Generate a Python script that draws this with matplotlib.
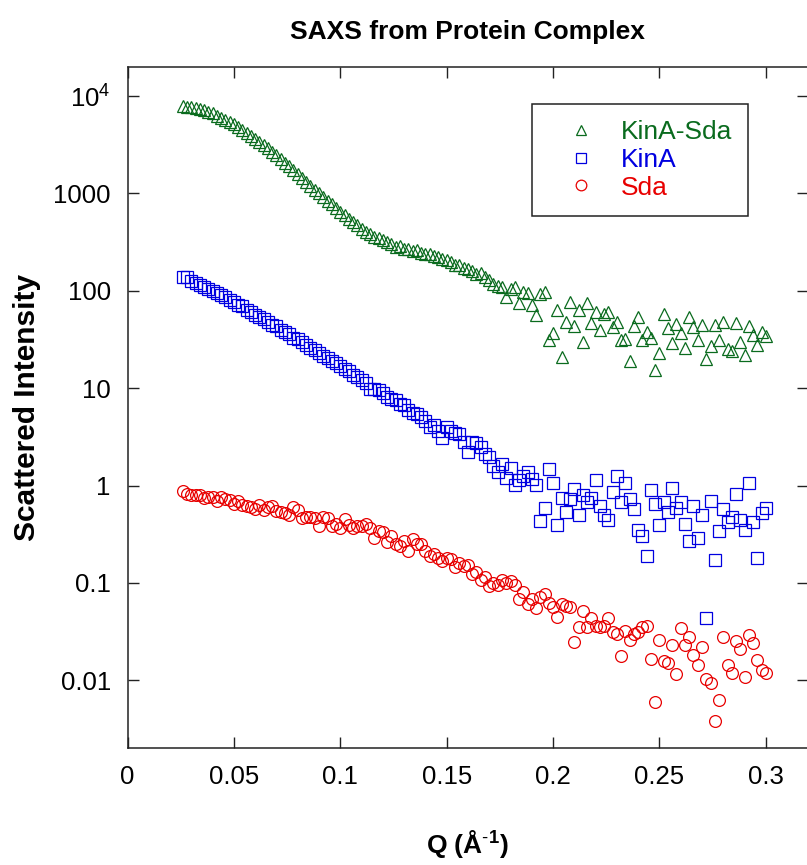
import matplotlib.pyplot as plt
from matplotlib.ticker import NullLocator

plt.rcParams['font.family'] = 'Liberation Sans'
plt.rcParams['mathtext.fontset'] = 'custom'
plt.rcParams['mathtext.rm'] = 'Liberation Sans'
plt.rcParams['mathtext.bf'] = 'Liberation Sans:bold'

# scattering vector Q (1/A), shared by the three curves
q = [0.026, 0.028, 0.030, 0.032, 0.034, 0.036, 0.038, 0.040, 0.042, 0.044,
     0.046, 0.048, 0.050, 0.052, 0.054, 0.056, 0.058, 0.060, 0.062, 0.064,
     0.066, 0.068, 0.070, 0.072, 0.074, 0.076, 0.078, 0.080, 0.082, 0.084,
     0.086, 0.088, 0.090, 0.092, 0.094, 0.096, 0.098, 0.100, 0.102, 0.104,
     0.106, 0.108, 0.110, 0.112, 0.114, 0.116, 0.118, 0.120, 0.122, 0.124,
     0.126, 0.128, 0.130, 0.132, 0.134, 0.136, 0.138, 0.140, 0.142, 0.144,
     0.146, 0.148, 0.150, 0.152, 0.154, 0.156, 0.158, 0.160, 0.162, 0.164,
     0.166, 0.168, 0.170, 0.172, 0.174, 0.176, 0.178, 0.180, 0.182, 0.184,
     0.186, 0.188, 0.190, 0.192, 0.194, 0.196, 0.198, 0.200, 0.202, 0.204,
     0.206, 0.208, 0.210, 0.212, 0.214, 0.216, 0.218, 0.220, 0.222, 0.224,
     0.226, 0.228, 0.230, 0.232, 0.234, 0.236, 0.238, 0.240, 0.242, 0.244,
     0.246, 0.248, 0.250, 0.252, 0.254, 0.256, 0.258, 0.260, 0.262, 0.264,
     0.266, 0.268, 0.270, 0.272, 0.274, 0.276, 0.278, 0.280, 0.282, 0.284,
     0.286, 0.288, 0.290, 0.292, 0.294, 0.296, 0.298, 0.300]

kina_sda = [7900, 7750, 7650, 7500, 7300, 7150, 6900, 6650, 6300, 6000,
            5650, 5350, 5100, 4800, 4500, 4200, 3900, 3650, 3400, 3150,
            2900, 2680, 2450, 2250, 2070, 1900, 1740, 1590, 1450, 1320,
            1200, 1090, 1000, 920, 840, 770, 705, 650, 600, 550,
            505, 470, 435, 405, 380, 360, 345, 330, 315, 300,
            282, 290, 270, 268, 258, 262, 245, 240, 236, 225,
            222, 210, 205, 198, 185, 182, 170, 168, 160, 150,
            152, 138, 130, 118, 112, 108, 86, 105, 110, 75,
            98, 95, 72, 57, 92, 96, 31, 37, 64, 21,
            48, 76, 43, 64, 30, 74, 47, 61, 40, 58,
            60, 42, 48, 31, 32, 19, 43, 54, 31, 38,
            33, 15.5, 23, 58, 41, 29, 46, 37, 26, 54,
            42, 31, 45, 20, 27, 45, 31, 48, 25, 24,
            47, 30, 22, 43, 35, 28, 38, 34]

kina = [140, 138, 126, 121, 114, 110, 104, 99, 94, 90,
        86, 80, 77, 72, 69, 64, 61, 57, 54, 51,
        48, 45, 43, 40, 38, 36, 33, 32, 29.5, 28,
        26, 24.5, 23, 21.5, 20.5, 19, 18, 16.8, 15.8, 15,
        13.8, 13, 12.2, 11.2, 9.8, 9.9, 9.6, 8.9, 8.2, 7.8,
        7.5, 6.9, 6.7, 6.0, 5.6, 5.4, 5.0, 4.6, 4.0, 4.2,
        3.6, 3.1, 4.0, 3.6, 3.5, 3.4, 2.8, 2.2, 2.8, 2.7,
        2.5, 2.1, 1.95, 1.57, 1.36, 1.65, 1.2, 1.53, 1.02, 1.15,
        1.24, 1.39, 1.18, 1.02, 0.43, 0.59, 1.46, 1.05, 0.39, 0.75,
        0.53, 0.72, 0.91, 0.5, 0.79, 0.67, 0.75, 1.13, 0.61, 0.5,
        0.44, 0.85, 1.24, 0.67, 1.05, 0.73, 0.57, 0.35, 0.30, 0.19,
        0.89, 0.65, 0.39, 0.68, 0.53, 0.95, 0.59, 0.67, 0.40, 0.27,
        0.62, 0.29, 0.50, 0.044, 0.70, 0.17, 0.34, 0.57, 0.42, 0.47,
        0.81, 0.44, 0.35, 1.07, 0.42, 0.18, 0.52, 0.59]

sda = [0.87, 0.81, 0.80, 0.79, 0.79, 0.75, 0.76, 0.77, 0.69, 0.77,
       0.72, 0.71, 0.64, 0.70, 0.63, 0.61, 0.60, 0.58, 0.63, 0.56,
       0.60, 0.62, 0.55, 0.53, 0.52, 0.50, 0.60, 0.56, 0.46, 0.47,
       0.47, 0.46, 0.38, 0.47, 0.46, 0.38, 0.40, 0.37, 0.45, 0.39,
       0.37, 0.38, 0.38, 0.40, 0.37, 0.29, 0.34, 0.33, 0.26, 0.30,
       0.25, 0.24, 0.27, 0.21, 0.28, 0.25, 0.25, 0.21, 0.19, 0.196,
       0.18, 0.166, 0.18, 0.174, 0.144, 0.16, 0.15, 0.154, 0.122, 0.128,
       0.108, 0.114, 0.092, 0.10, 0.096, 0.108, 0.10, 0.104, 0.094, 0.068,
       0.080, 0.060, 0.069, 0.055, 0.071, 0.076, 0.062, 0.057, 0.045, 0.060,
       0.058, 0.057, 0.0245, 0.035, 0.051, 0.035, 0.044, 0.036, 0.035, 0.036,
       0.044, 0.031, 0.030, 0.0176, 0.032, 0.026, 0.030, 0.031, 0.035, 0.036,
       0.0167, 0.006, 0.026, 0.0156, 0.0152, 0.023, 0.0115, 0.034, 0.023, 0.0276,
       0.0183, 0.0145, 0.022, 0.0102, 0.0093, 0.0038, 0.0062, 0.028, 0.0142, 0.012,
       0.0255, 0.021, 0.0107, 0.029, 0.024, 0.0163, 0.0127, 0.012]

yticks = [0.01, 0.1, 1, 10, 100, 1000, 10000]
ytick_labels = ['0.01', '0.1', '1', '10', '100', '1000', r'$\mathregular{10^4}$']
xticks = [0, 0.05, 0.1, 0.15, 0.2, 0.25, 0.3]
xtick_labels = ['0', '0.05', '0.1', '0.15', '0.2', '0.25', '0.3']

green = '#0a6b1e'
blue = '#0000e0'
red = '#e80000'

fig = plt.figure(figsize=(8.07, 8.65), dpi=100)
ax = fig.add_axes([0.158, 0.1349, 0.8432, 0.788])

h_s, = ax.plot(q, sda, 'o', ms=8.5, mfc='none', mec=red, mew=0.9, label='Sda')
h_k, = ax.plot(q, kina, 's', ms=8.2, mfc='none', mec=blue, mew=0.9, label='KinA')
h_ks, = ax.plot(q, kina_sda, '^', ms=8.5, mfc='none', mec=green, mew=0.9, label='KinA-Sda')

ax.set_yscale('log')
ax.set_ylim(0.002, 2e4)
ax.set_xlim(0, 0.3198)
ax.set_yticks(yticks, ytick_labels)
ax.yaxis.set_minor_locator(NullLocator())
ax.set_xticks(xticks, xtick_labels)
ax.tick_params(direction='in', length=8, width=1, labelsize=18.5, pad=12,
               top=True, right=True, color='#222222')
for s in ax.spines.values():
    s.set_color('#222222')
    s.set_linewidth(1.1)

ax.set_title('SAXS from Protein Complex', fontsize=19, fontweight='bold', pad=20)
ax.set_ylabel('Scattered Intensity', fontsize=21.5, fontweight='bold', labelpad=9)
ax.set_xlabel(r'Q (Å$^{\text{-}\mathbf{1}}$)', fontsize=19, fontweight='bold', labelpad=28)

leg = ax.legend(handles=[h_ks, h_k, h_s], loc='upper left',
                bbox_to_anchor=(0.595, 0.9453), borderaxespad=0,
                fancybox=False, framealpha=1, edgecolor='#222222',
                fontsize=19, handlelength=2.5, handletextpad=0.25,
                borderpad=0.6, labelspacing=0.15, numpoints=1,
                markerscale=0.9, labelcolor='markeredgecolor')
leg.get_frame().set_linewidth(1.1)

fig.savefig('out.png', dpi=100)
